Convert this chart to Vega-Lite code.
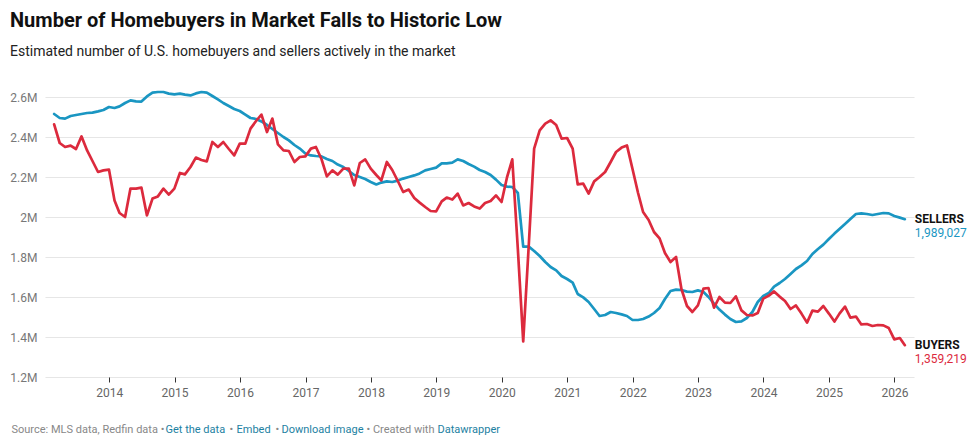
{
  "$schema": "https://vega.github.io/schema/vega-lite/v6.json",
  "width": 869,
  "height": 280,
  "autosize": {"type": "none"},
  "padding": {"left": 45, "top": 97, "right": 60, "bottom": 64},
  "background": "white",
  "config": {
    "font": "Roboto",
    "view": {"stroke": null},
    "axis": {"titleFont": "Roboto", "titleFontSize": 11, "titleFontWeight": "normal", "titleAlign": "left", "titleBaseline": "alphabetic", "titleAngle": 0}
  },
  "title": {
    "text": "Number of Homebuyers in Market Falls to Historic Low",
    "subtitle": "Estimated number of U.S. homebuyers and sellers actively in the market",
    "anchor": "start",
    "frame": "group",
    "dx": -35,
    "offset": 32,
    "font": "Roboto",
    "fontSize": 20,
    "fontWeight": "bold",
    "color": "#111111",
    "subtitleFont": "Roboto",
    "subtitleFontSize": 14,
    "subtitleColor": "#222222",
    "subtitlePadding": 14
  },
  "data": {
    "values": [
      {"date": "2013-02-28", "SELLERS": 2515000, "BUYERS": 2463000},
      {"date": "2013-03-31", "SELLERS": 2495000, "BUYERS": 2370000},
      {"date": "2013-04-30", "SELLERS": 2492000, "BUYERS": 2350000},
      {"date": "2013-05-31", "SELLERS": 2505000, "BUYERS": 2357000},
      {"date": "2013-06-30", "SELLERS": 2510000, "BUYERS": 2340000},
      {"date": "2013-07-31", "SELLERS": 2515000, "BUYERS": 2403000},
      {"date": "2013-08-31", "SELLERS": 2520000, "BUYERS": 2333000},
      {"date": "2013-09-30", "SELLERS": 2522000, "BUYERS": 2280000},
      {"date": "2013-10-31", "SELLERS": 2528000, "BUYERS": 2225000},
      {"date": "2013-11-30", "SELLERS": 2535000, "BUYERS": 2233000},
      {"date": "2013-12-31", "SELLERS": 2550000, "BUYERS": 2237000},
      {"date": "2014-01-31", "SELLERS": 2545000, "BUYERS": 2083000},
      {"date": "2014-02-28", "SELLERS": 2553000, "BUYERS": 2020000},
      {"date": "2014-03-31", "SELLERS": 2570000, "BUYERS": 2000000},
      {"date": "2014-04-30", "SELLERS": 2583000, "BUYERS": 2142000},
      {"date": "2014-05-31", "SELLERS": 2578000, "BUYERS": 2142000},
      {"date": "2014-06-30", "SELLERS": 2577000, "BUYERS": 2147000},
      {"date": "2014-07-31", "SELLERS": 2603000, "BUYERS": 2008000},
      {"date": "2014-08-31", "SELLERS": 2622000, "BUYERS": 2092000},
      {"date": "2014-09-30", "SELLERS": 2625000, "BUYERS": 2103000},
      {"date": "2014-10-31", "SELLERS": 2625000, "BUYERS": 2142000},
      {"date": "2014-11-30", "SELLERS": 2617000, "BUYERS": 2112000},
      {"date": "2014-12-31", "SELLERS": 2613000, "BUYERS": 2142000},
      {"date": "2015-01-31", "SELLERS": 2617000, "BUYERS": 2220000},
      {"date": "2015-02-28", "SELLERS": 2612000, "BUYERS": 2213000},
      {"date": "2015-03-31", "SELLERS": 2608000, "BUYERS": 2250000},
      {"date": "2015-04-30", "SELLERS": 2618000, "BUYERS": 2297000},
      {"date": "2015-05-31", "SELLERS": 2625000, "BUYERS": 2285000},
      {"date": "2015-06-30", "SELLERS": 2622000, "BUYERS": 2278000},
      {"date": "2015-07-31", "SELLERS": 2605000, "BUYERS": 2375000},
      {"date": "2015-08-31", "SELLERS": 2588000, "BUYERS": 2350000},
      {"date": "2015-09-30", "SELLERS": 2570000, "BUYERS": 2375000},
      {"date": "2015-10-31", "SELLERS": 2555000, "BUYERS": 2340000},
      {"date": "2015-11-30", "SELLERS": 2540000, "BUYERS": 2308000},
      {"date": "2015-12-31", "SELLERS": 2530000, "BUYERS": 2367000},
      {"date": "2016-01-31", "SELLERS": 2512000, "BUYERS": 2367000},
      {"date": "2016-02-29", "SELLERS": 2495000, "BUYERS": 2442000},
      {"date": "2016-03-31", "SELLERS": 2490000, "BUYERS": 2480000},
      {"date": "2016-04-30", "SELLERS": 2478000, "BUYERS": 2512000},
      {"date": "2016-05-31", "SELLERS": 2460000, "BUYERS": 2425000},
      {"date": "2016-06-30", "SELLERS": 2440000, "BUYERS": 2492000},
      {"date": "2016-07-31", "SELLERS": 2420000, "BUYERS": 2363000},
      {"date": "2016-08-31", "SELLERS": 2400000, "BUYERS": 2333000},
      {"date": "2016-09-30", "SELLERS": 2383000, "BUYERS": 2330000},
      {"date": "2016-10-31", "SELLERS": 2360000, "BUYERS": 2275000},
      {"date": "2016-11-30", "SELLERS": 2342000, "BUYERS": 2300000},
      {"date": "2016-12-31", "SELLERS": 2318000, "BUYERS": 2303000},
      {"date": "2017-01-31", "SELLERS": 2308000, "BUYERS": 2342000},
      {"date": "2017-02-28", "SELLERS": 2305000, "BUYERS": 2350000},
      {"date": "2017-03-31", "SELLERS": 2303000, "BUYERS": 2290000},
      {"date": "2017-04-30", "SELLERS": 2290000, "BUYERS": 2203000},
      {"date": "2017-05-31", "SELLERS": 2280000, "BUYERS": 2233000},
      {"date": "2017-06-30", "SELLERS": 2262000, "BUYERS": 2212000},
      {"date": "2017-07-31", "SELLERS": 2250000, "BUYERS": 2242000},
      {"date": "2017-08-31", "SELLERS": 2230000, "BUYERS": 2242000},
      {"date": "2017-09-30", "SELLERS": 2210000, "BUYERS": 2158000},
      {"date": "2017-10-31", "SELLERS": 2200000, "BUYERS": 2270000},
      {"date": "2017-11-30", "SELLERS": 2190000, "BUYERS": 2288000},
      {"date": "2017-12-31", "SELLERS": 2175000, "BUYERS": 2242000},
      {"date": "2018-01-31", "SELLERS": 2163000, "BUYERS": 2210000},
      {"date": "2018-02-28", "SELLERS": 2172000, "BUYERS": 2183000},
      {"date": "2018-03-31", "SELLERS": 2178000, "BUYERS": 2275000},
      {"date": "2018-04-30", "SELLERS": 2175000, "BUYERS": 2235000},
      {"date": "2018-05-31", "SELLERS": 2182000, "BUYERS": 2180000},
      {"date": "2018-06-30", "SELLERS": 2192000, "BUYERS": 2125000},
      {"date": "2018-07-31", "SELLERS": 2200000, "BUYERS": 2137000},
      {"date": "2018-08-31", "SELLERS": 2208000, "BUYERS": 2095000},
      {"date": "2018-09-30", "SELLERS": 2218000, "BUYERS": 2072000},
      {"date": "2018-10-31", "SELLERS": 2233000, "BUYERS": 2050000},
      {"date": "2018-11-30", "SELLERS": 2240000, "BUYERS": 2030000},
      {"date": "2018-12-31", "SELLERS": 2247000, "BUYERS": 2028000},
      {"date": "2019-01-31", "SELLERS": 2268000, "BUYERS": 2078000},
      {"date": "2019-02-28", "SELLERS": 2268000, "BUYERS": 2097000},
      {"date": "2019-03-31", "SELLERS": 2272000, "BUYERS": 2087000},
      {"date": "2019-04-30", "SELLERS": 2288000, "BUYERS": 2117000},
      {"date": "2019-05-31", "SELLERS": 2280000, "BUYERS": 2058000},
      {"date": "2019-06-30", "SELLERS": 2265000, "BUYERS": 2070000},
      {"date": "2019-07-31", "SELLERS": 2252000, "BUYERS": 2053000},
      {"date": "2019-08-31", "SELLERS": 2235000, "BUYERS": 2042000},
      {"date": "2019-09-30", "SELLERS": 2225000, "BUYERS": 2070000},
      {"date": "2019-10-31", "SELLERS": 2210000, "BUYERS": 2080000},
      {"date": "2019-11-30", "SELLERS": 2187000, "BUYERS": 2108000},
      {"date": "2019-12-31", "SELLERS": 2160000, "BUYERS": 2075000},
      {"date": "2020-01-31", "SELLERS": 2152000, "BUYERS": 2200000},
      {"date": "2020-02-29", "SELLERS": 2150000, "BUYERS": 2288000},
      {"date": "2020-03-31", "SELLERS": 2120000, "BUYERS": 1840000},
      {"date": "2020-04-30", "SELLERS": 1852000, "BUYERS": 1378000},
      {"date": "2020-05-31", "SELLERS": 1852000, "BUYERS": 1860000},
      {"date": "2020-06-30", "SELLERS": 1830000, "BUYERS": 2342000},
      {"date": "2020-07-31", "SELLERS": 1805000, "BUYERS": 2433000},
      {"date": "2020-08-31", "SELLERS": 1775000, "BUYERS": 2467000},
      {"date": "2020-09-30", "SELLERS": 1750000, "BUYERS": 2483000},
      {"date": "2020-10-31", "SELLERS": 1733000, "BUYERS": 2460000},
      {"date": "2020-11-30", "SELLERS": 1705000, "BUYERS": 2392000},
      {"date": "2020-12-31", "SELLERS": 1690000, "BUYERS": 2395000},
      {"date": "2021-01-31", "SELLERS": 1672000, "BUYERS": 2342000},
      {"date": "2021-02-28", "SELLERS": 1615000, "BUYERS": 2163000},
      {"date": "2021-03-31", "SELLERS": 1598000, "BUYERS": 2167000},
      {"date": "2021-04-30", "SELLERS": 1575000, "BUYERS": 2117000},
      {"date": "2021-05-31", "SELLERS": 1540000, "BUYERS": 2178000},
      {"date": "2021-06-30", "SELLERS": 1505000, "BUYERS": 2200000},
      {"date": "2021-07-31", "SELLERS": 1510000, "BUYERS": 2225000},
      {"date": "2021-08-31", "SELLERS": 1525000, "BUYERS": 2275000},
      {"date": "2021-09-30", "SELLERS": 1520000, "BUYERS": 2325000},
      {"date": "2021-10-31", "SELLERS": 1513000, "BUYERS": 2347000},
      {"date": "2021-11-30", "SELLERS": 1505000, "BUYERS": 2358000},
      {"date": "2021-12-31", "SELLERS": 1485000, "BUYERS": 2240000},
      {"date": "2022-01-31", "SELLERS": 1485000, "BUYERS": 2120000},
      {"date": "2022-02-28", "SELLERS": 1490000, "BUYERS": 2025000},
      {"date": "2022-03-31", "SELLERS": 1502000, "BUYERS": 1985000},
      {"date": "2022-04-30", "SELLERS": 1520000, "BUYERS": 1925000},
      {"date": "2022-05-31", "SELLERS": 1545000, "BUYERS": 1893000},
      {"date": "2022-06-30", "SELLERS": 1590000, "BUYERS": 1820000},
      {"date": "2022-07-31", "SELLERS": 1630000, "BUYERS": 1775000},
      {"date": "2022-08-31", "SELLERS": 1637000, "BUYERS": 1800000},
      {"date": "2022-09-30", "SELLERS": 1635000, "BUYERS": 1640000},
      {"date": "2022-10-31", "SELLERS": 1627000, "BUYERS": 1555000},
      {"date": "2022-11-30", "SELLERS": 1625000, "BUYERS": 1525000},
      {"date": "2022-12-31", "SELLERS": 1633000, "BUYERS": 1558000},
      {"date": "2023-01-31", "SELLERS": 1625000, "BUYERS": 1642000},
      {"date": "2023-02-28", "SELLERS": 1600000, "BUYERS": 1645000},
      {"date": "2023-03-31", "SELLERS": 1567000, "BUYERS": 1547000},
      {"date": "2023-04-30", "SELLERS": 1537000, "BUYERS": 1600000},
      {"date": "2023-05-31", "SELLERS": 1512000, "BUYERS": 1572000},
      {"date": "2023-06-30", "SELLERS": 1490000, "BUYERS": 1570000},
      {"date": "2023-07-31", "SELLERS": 1475000, "BUYERS": 1603000},
      {"date": "2023-08-31", "SELLERS": 1478000, "BUYERS": 1533000},
      {"date": "2023-09-30", "SELLERS": 1495000, "BUYERS": 1510000},
      {"date": "2023-10-31", "SELLERS": 1525000, "BUYERS": 1508000},
      {"date": "2023-11-30", "SELLERS": 1575000, "BUYERS": 1520000},
      {"date": "2023-12-31", "SELLERS": 1605000, "BUYERS": 1592000},
      {"date": "2024-01-31", "SELLERS": 1620000, "BUYERS": 1607000},
      {"date": "2024-02-29", "SELLERS": 1652000, "BUYERS": 1628000},
      {"date": "2024-03-31", "SELLERS": 1670000, "BUYERS": 1602000},
      {"date": "2024-04-30", "SELLERS": 1690000, "BUYERS": 1580000},
      {"date": "2024-05-31", "SELLERS": 1715000, "BUYERS": 1540000},
      {"date": "2024-06-30", "SELLERS": 1740000, "BUYERS": 1558000},
      {"date": "2024-07-31", "SELLERS": 1758000, "BUYERS": 1517000},
      {"date": "2024-08-31", "SELLERS": 1780000, "BUYERS": 1472000},
      {"date": "2024-09-30", "SELLERS": 1815000, "BUYERS": 1532000},
      {"date": "2024-10-31", "SELLERS": 1840000, "BUYERS": 1527000},
      {"date": "2024-11-30", "SELLERS": 1862000, "BUYERS": 1555000},
      {"date": "2024-12-31", "SELLERS": 1890000, "BUYERS": 1517000},
      {"date": "2025-01-31", "SELLERS": 1917000, "BUYERS": 1477000},
      {"date": "2025-02-28", "SELLERS": 1940000, "BUYERS": 1517000},
      {"date": "2025-03-31", "SELLERS": 1965000, "BUYERS": 1552000},
      {"date": "2025-04-30", "SELLERS": 1990000, "BUYERS": 1497000},
      {"date": "2025-05-31", "SELLERS": 2015000, "BUYERS": 1502000},
      {"date": "2025-06-30", "SELLERS": 2018000, "BUYERS": 1463000},
      {"date": "2025-07-31", "SELLERS": 2015000, "BUYERS": 1465000},
      {"date": "2025-08-31", "SELLERS": 2010000, "BUYERS": 1455000},
      {"date": "2025-09-30", "SELLERS": 2015000, "BUYERS": 1460000},
      {"date": "2025-10-31", "SELLERS": 2020000, "BUYERS": 1458000},
      {"date": "2025-11-30", "SELLERS": 2018000, "BUYERS": 1445000},
      {"date": "2025-12-31", "SELLERS": 2005000, "BUYERS": 1388000},
      {"date": "2026-01-31", "SELLERS": 1997000, "BUYERS": 1395000},
      {"date": "2026-02-28", "SELLERS": 1989027, "BUYERS": 1359219}
    ]
  },
  "transform": [{"fold": ["SELLERS", "BUYERS"], "as": ["series", "value"]}],
  "resolve": {"axis": {"x": "independent", "y": "independent"}},
  "layer": [
    {
      "transform": [{"filter": "datum.series == 'SELLERS'"}],
      "mark": {"type": "line", "strokeWidth": 2.7, "strokeJoin": "round", "strokeCap": "round", "color": "#1a96c2"},
      "encoding": {
        "x": {
          "field": "date", "type": "temporal",
          "scale": {"domain": ["2013-01-08", "2026-04-20"]},
          "axis": {
            "orient": "bottom",
            "format": "%Y",
            "tickCount": {"interval": "year", "step": 1},
            "grid": false, "domain": false, "ticks": true,
            "tickColor": "#333333", "tickSize": 5, "tickWidth": 1,
            "labelPadding": 5, "labelColor": "#666666", "labelFontSize": 12, "labelFont": "Roboto",
            "title": "Source: MLS data, Redfin data •",
            "titleColor": "#888888", "titleX": -34, "titleY": 55
          }
        },
        "y": {
          "field": "value", "type": "quantitative",
          "scale": {"domain": [1200000, 2600000], "nice": false, "zero": false},
          "axis": {
            "orient": "left",
            "values": [1200000, 1400000, 1600000, 1800000, 2000000, 2200000, 2400000, 2600000],
            "format": "~s",
            "grid": true, "gridColor": "#e6e6e6", "gridWidth": 1.2,
            "domain": false, "ticks": false,
            "labelPadding": 8, "labelColor": "#777777", "labelFontSize": 12, "labelFont": "Roboto",
            "title": "Get the data",
            "titleColor": "#1d81a2", "titleX": 120, "titleY": 335
          }
        }
      }
    },
    {
      "transform": [{"filter": "datum.series == 'BUYERS'"}],
      "mark": {"type": "line", "strokeWidth": 2.7, "strokeJoin": "round", "strokeCap": "round", "color": "#dc2a3d"},
      "encoding": {
        "x": {
          "field": "date", "type": "temporal",
          "axis": {"orient": "bottom", "labels": false, "ticks": false, "domain": false, "grid": false,
                   "title": "•", "titleColor": "#888888", "titleX": 184, "titleY": 55}
        },
        "y": {
          "field": "value", "type": "quantitative",
          "axis": {"orient": "left", "labels": false, "ticks": false, "domain": false, "grid": false,
                   "title": "Embed", "titleColor": "#1d81a2", "titleX": 191, "titleY": 335}
        }
      }
    },
    {
      "transform": [{"filter": "year(datum.date) == 2026 && month(datum.date) == 1"}],
      "mark": {"type": "text", "align": "left", "baseline": "middle", "dx": 10, "fontWeight": "bold", "fontSize": 12, "font": "Roboto", "color": "#111111"},
      "encoding": {
        "x": {
          "field": "date", "type": "temporal",
          "axis": {"orient": "bottom", "labels": false, "ticks": false, "domain": false, "grid": false,
                   "title": "•", "titleColor": "#888888", "titleX": 230, "titleY": 55}
        },
        "y": {
          "field": "value", "type": "quantitative",
          "axis": {"orient": "left", "labels": false, "ticks": false, "domain": false, "grid": false,
                   "title": "Download image", "titleColor": "#1d81a2", "titleX": 236, "titleY": 335}
        },
        "text": {"field": "series"}
      }
    },
    {
      "transform": [{"filter": "year(datum.date) == 2026 && month(datum.date) == 1"}],
      "mark": {"type": "text", "align": "left", "baseline": "middle", "dx": 10, "dy": 14, "fontSize": 12, "font": "Roboto"},
      "encoding": {
        "x": {
          "field": "date", "type": "temporal",
          "axis": {"orient": "bottom", "labels": false, "ticks": false, "domain": false, "grid": false,
                   "title": "• Created with", "titleColor": "#888888", "titleX": 321, "titleY": 55}
        },
        "y": {
          "field": "value", "type": "quantitative",
          "axis": {"orient": "left", "labels": false, "ticks": false, "domain": false, "grid": false,
                   "title": "Datawrapper", "titleColor": "#1d81a2", "titleX": 392, "titleY": 335}
        },
        "text": {"field": "value", "type": "quantitative", "format": ","},
        "color": {
          "field": "series", "type": "nominal",
          "scale": {"domain": ["SELLERS", "BUYERS"], "range": ["#1a96c2", "#dc2a3d"]},
          "legend": null
        }
      }
    }
  ]
}
